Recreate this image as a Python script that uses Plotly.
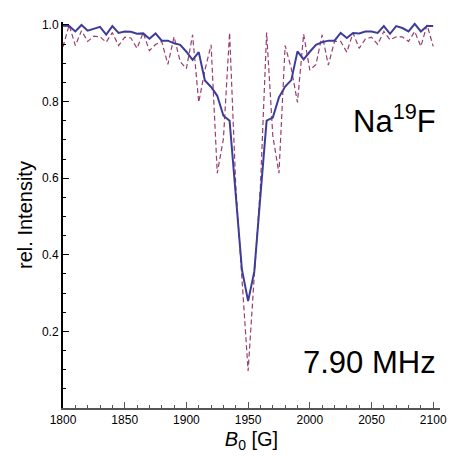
import plotly.graph_objects as go

# magnetic field B0 [G], 5 G steps
field = list(range(1800, 2105, 5))

# solid: averaged spectrum
rel_avg = [
    0.998, 0.997, 0.983, 1.000, 0.985, 0.990, 0.995, 0.975, 0.997, 0.979,
    0.983, 0.982, 0.977, 0.978, 0.964, 0.978, 0.959, 0.959, 0.952, 0.948,
    0.930, 0.909, 0.929, 0.855, 0.838, 0.815, 0.763, 0.750, 0.555, 0.361,
    0.279,
    0.356, 0.555, 0.750, 0.758, 0.811, 0.839, 0.856, 0.931, 0.910, 0.930,
    0.948, 0.955, 0.959, 0.959, 0.979, 0.966, 0.979, 0.978, 0.983, 0.983,
    0.979, 0.997, 0.977, 0.997, 0.992, 0.983, 1.003, 0.983, 0.997, 0.997,
]

# dashed: single spectrum
rel_single = [
    0.943, 1.000, 0.946, 0.985, 0.957, 0.971, 0.969, 0.955, 0.980, 0.946,
    0.968, 0.966, 0.939, 0.980, 0.933, 0.949, 0.957, 0.897, 0.969, 0.904,
    0.886, 0.974, 0.798, 0.882, 0.948, 0.613, 0.703, 0.980, 0.580, 0.345,
    0.097,
    0.345, 0.580, 0.980, 0.711, 0.613, 0.946, 0.886, 0.798, 0.976, 0.882,
    0.897, 0.974, 0.895, 0.957, 0.957, 0.929, 0.979, 0.939, 0.963, 0.968,
    0.949, 0.983, 0.961, 0.969, 0.969, 0.957, 0.983, 0.944, 1.000, 0.944,
]

x_ticks = [1800, 1850, 1900, 1950, 2000, 2050, 2100]
y_ticks = [0.2, 0.4, 0.6, 0.8, 1.0]

font = "Liberation Sans, Arial, Helvetica, sans-serif"

fig = go.Figure()
fig.add_trace(
    go.Scatter(
        x=field,
        y=rel_single,
        mode="lines",
        line=dict(color="#993d71", width=1.2, dash="5px,3px"),
    )
)
fig.add_trace(
    go.Scatter(
        x=field,
        y=rel_avg,
        mode="lines",
        line=dict(color="#3d3d99", width=2),
    )
)

fig.add_annotation(
    x=2104, y=0.755, xref="x", yref="y",
    text="Na<sup>19</sup>F", showarrow=False,
    xanchor="right", yanchor="middle",
    font=dict(family=font, size=31, color="black"),
)
fig.add_annotation(
    x=2104, y=0.12, xref="x", yref="y",
    text="7.90 MHz", showarrow=False,
    xanchor="right", yanchor="middle",
    font=dict(family=font, size=31, color="black"),
)

# page body has an 8px margin, so the figure is 449 px to fill the 457 px window
fig.update_layout(
    width=449,
    height=449,
    showlegend=False,
    plot_bgcolor="white",
    paper_bgcolor="white",
    margin=dict(l=55, r=10, t=10, b=46),
    font=dict(family=font, color="black"),
    xaxis=dict(
        range=[1800, 2105.5],
        tickvals=x_ticks,
        ticks="inside",
        ticklen=6,
        tickcolor="#555",
        showline=True,
        linecolor="#555",
        linewidth=1.5,
        tickfont=dict(size=12, color="black"),
        ticklabeloverflow="allow",
        minor=dict(dtick=10, tick0=1800, ticks="inside", ticklen=3, tickcolor="#555"),
        title=dict(text="<i>B</i><sub>0</sub> [G]", font=dict(size=20, color="black"), standoff=6),
        showgrid=False,
        zeroline=False,
    ),
    yaxis=dict(
        range=[0, 1.0077],
        tickvals=y_ticks,
        ticktext=["0.2", "0.4", "0.6", "0.8", "1.0"],
        ticks="inside",
        ticklen=6,
        tickcolor="black",
        showline=True,
        linecolor="black",
        linewidth=2,
        tickfont=dict(size=12, color="black"),
        minor=dict(dtick=0.05, tick0=0, ticks="inside", ticklen=3, tickcolor="black"),
        title=dict(text="rel. Intensity", font=dict(size=20, color="black"), standoff=4),
        showgrid=False,
        zeroline=False,
    ),
)

fig.write_html("out.html")
